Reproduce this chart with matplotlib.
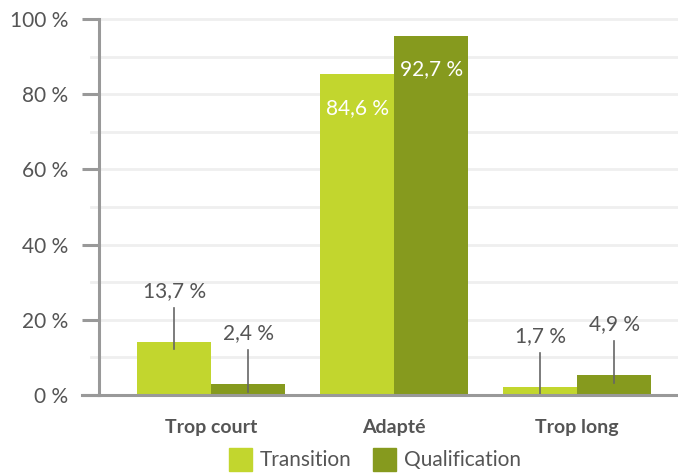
import matplotlib.pyplot as plt
from matplotlib.patches import Patch

plt.rcParams['font.family'] = ['Lato', 'DejaVu Sans']

categories = ['Trop court', 'Adapté', 'Trop long']
# bar heights as drawn in the picture, and the printed labels
transition = [14.2, 85.3, 2.2]
qualification = [2.9, 95.6, 5.3]
transition_labels = ['13,7 %', '84,6 %', '1,7 %']
qualification_labels = ['2,4 %', '92,7 %', '4,9 %']
yticks = [0, 20, 40, 60, 80, 100]
ytick_labels = ['0 %', '20 %', '40 %', '60 %', '80 %', '100 %']

light = '#c2d62e'
dark = '#869a1e'
txt = '#555555'
axis_col = '#999999'

fig = plt.figure(figsize=(6.78, 4.76), dpi=100)
ax = fig.add_axes([0.146, 0.170, 0.854, 0.790])

x = list(range(len(categories)))
w = 0.404
ax.bar([i - w / 2 for i in x], transition, w, color=light, zorder=3)
ax.bar([i + w / 2 for i in x], qualification, w, color=dark, zorder=3)

# light grid every 10 %, reaching a bit left of the spine
for g in range(10, 101, 10):
    ax.axhline(g, xmin=-0.014, color='#efefef', lw=2, zorder=1, clip_on=False)

def add_label(xpos, h, s):
    if h > 50:
        ax.text(xpos, h - 9, s, ha='center', va='center', color='white', fontsize=15, zorder=4)
    else:
        ax.plot([xpos, xpos], [h - 2, h + 9], color='#666666', lw=1.2, zorder=4)
        ax.text(xpos, h + 13.5, s, ha='center', va='center', color=txt, fontsize=15, zorder=4)

for i in x:
    add_label(i - w / 2, transition[i], transition_labels[i])
    add_label(i + w / 2, qualification[i], qualification_labels[i])

ax.set_xlim(-0.612, 2.55)
ax.set_ylim(0, 100)
ax.set_yticks(yticks)
ax.set_yticklabels(ytick_labels, color=txt, fontsize=15)
ax.tick_params(axis='y', length=12, width=2.2, color=axis_col, pad=10)
ax.set_xticks(x)
ax.set_xticklabels(categories, fontweight='bold', color=txt, fontsize=14)
ax.tick_params(axis='x', length=0, pad=17)

for s in ['top', 'right']:
    ax.spines[s].set_visible(False)
ax.spines['left'].set_color(axis_col)
ax.spines['left'].set_linewidth(2.2)
ax.spines['bottom'].set_color(axis_col)
ax.spines['bottom'].set_linewidth(2.2)
ax.spines['bottom'].set_zorder(5)
# extend bottom line left to the tick end
ax.plot([-0.612 - 17 / 183, -0.612], [0, 0], color=axis_col, lw=2.2, clip_on=False, zorder=5)

handles = [Patch(color=light, label='Transition'), Patch(color=dark, label='Qualification')]
fig.legend(handles=handles, loc='lower center', bbox_to_anchor=(0.553, -0.028), ncol=2,
           frameon=False, fontsize=15, handlelength=1.1, handleheight=1.3,
           handletextpad=0.4, columnspacing=1.0, labelcolor=txt)

fig.savefig('out.png', dpi=100)
